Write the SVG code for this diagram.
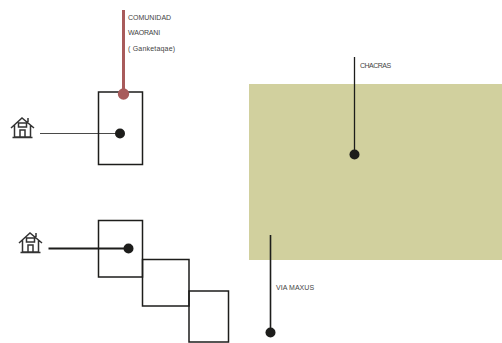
<svg xmlns="http://www.w3.org/2000/svg" width="502" height="343" viewBox="0 0 502 343">
<defs>
<style>
.box{fill:none;stroke:#1d1d1b;stroke-width:1.5}
.t{font-family:"Liberation Sans",Arial,sans-serif;font-size:7px;fill:#444;letter-spacing:-.1px}
.ln{stroke:#1d1d1b;fill:none}
.dot{fill:#1d1d1b}
.h{fill:none;stroke:#333;stroke-width:1.5}
</style>
<g id="house">
<path class="h" d="M0 12L11 2L23 12M3.500 9V21H19.500V9M1.500 21.500H21.500M9 21V14H14V21M7.500 7H15.500V11H7.500ZM17 2V6"/>
</g>
</defs>
<rect id="area" x="249" y="84" width="253" height="176" fill="#d1d09e"/>
<g id="box-1"><rect class="box" x="98.500" y="92" width="44" height="72.500"/></g>
<g id="box-2"><rect class="box" x="98.500" y="220.500" width="44" height="56.500"/></g>
<g id="box-3"><rect class="box" x="142.500" y="259.500" width="46.500" height="46.500"/></g>
<g id="box-4"><rect class="box" x="189" y="291" width="39.500" height="51"/></g>
<g id="house-1"><use href="#house" x="11" y="116"/></g>
<g id="house-2"><use href="#house" x="19" y="231"/></g>
<g id="connectors">
<path d="M123.500 10V94" stroke="#a85b5b" stroke-width="3" fill="none"/>
<circle cx="123.500" cy="94" r="5.700" fill="#a85b5b"/>
<path class="ln" d="M40 133.500H120" stroke-width="1.200" opacity=".8"/>
<circle class="dot" cx="120" cy="133.500" r="5"/>
<path class="ln" d="M48.500 248.500H128.500" stroke-width="1.800"/>
<circle class="dot" cx="128.500" cy="248.500" r="5"/>
<path class="ln" d="M354.500 57V154.500" stroke-width="1.300"/>
<circle class="dot" cx="354.500" cy="154.500" r="5"/>
<path class="ln" d="M270.500 235V332.500" stroke-width="1.600"/>
<circle class="dot" cx="270.500" cy="332.500" r="5"/>
</g>
<g id="labels">
<text class="t" x="128" y="20" textLength="43">COMUNIDAD</text>
<text class="t" x="128" y="35" textLength="32">WAORANI</text>
<text class="t" x="128" y="51" textLength="47">( Ganketaqae)</text>
<text class="t" x="360" y="68" textLength="31">CHACRAS</text>
<text class="t" x="276" y="290" textLength="38">VIA MAXUS</text>
</g>
</svg>
